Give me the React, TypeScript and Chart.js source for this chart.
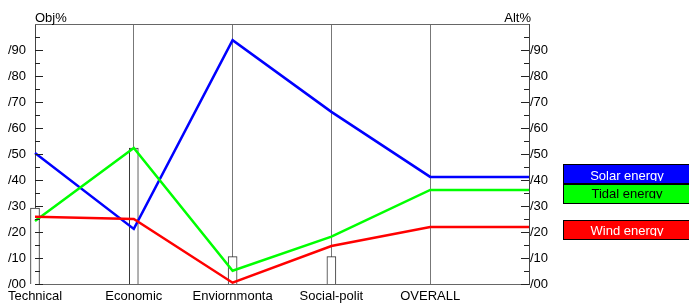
import React, { useEffect, useRef } from "react";
import { Chart, registerables } from "chart.js";

Chart.register(...registerables);

const categories = ["Technical", "Economic", "Enviornmonta", "Social-polit", "OVERALL"];
const seriesNames = ["Solar energy", "Tidal energy", "Wind energy"];
const solar = [50.4, 21.2, 93.8, 66.2, 41.2];
const tidal = [24.2, 52.3, 5.1, 18.2, 36.2];
const wind = [25.9, 25.0, 0.5, 14.6, 21.9];
const objBars = [29.2, 52.3, 10.5, 10.5];
const yTickValues = [0, 10, 20, 30, 40, 50, 60, 70, 80, 90];
const yTickLabels = ["/00", "/10", "/20", "/30", "/40", "/50", "/60", "/70", "/80", "/90"];
const leftTitle = "Obj%";
const rightTitle = "Alt%";

const FONT = "Liberation Sans";
const FSIZE = 13;

function lineData(vals: number[]) {
  const pts = vals.map((v, i) => ({ x: i, y: v }));
  pts.push({ x: vals.length, y: vals[vals.length - 1] });
  return pts;
}

const fmtTick = (v: any) => {
  const i = yTickValues.indexOf(Number(v));
  return i >= 0 ? yTickLabels[i] : null;
};

export default function App() {
  const ref = useRef<HTMLCanvasElement | null>(null);
  useEffect(() => {
    document.body.style.margin = "0";
    const colors = ["#0000ff", "#00ff00", "#ff0000"];
    const textColors = ["#ffffff", "#000000", "#ffffff"];
    const decor = {
      id: "decor",
      afterDraw(chart: any) {
        const ctx = chart.ctx;
        const a = chart.chartArea;
        const ys = chart.scales.y;
        ctx.save();
        // top border
        ctx.strokeStyle = "#666";
        ctx.lineWidth = 1;
        ctx.beginPath();
        ctx.moveTo(a.left, a.top + 0.5);
        ctx.lineTo(a.right, a.top + 0.5);
        ctx.stroke();
        // inward ticks
        ctx.strokeStyle = "#222";
        for (let v = 0; v < 100; v += 5) {
          const y = Math.round(ys.getPixelForValue(v)) + 0.5;
          const len = v % 10 === 0 ? 8 : 5;
          ctx.beginPath();
          ctx.moveTo(a.left, y);
          ctx.lineTo(a.left + len, y);
          ctx.moveTo(a.right, y);
          ctx.lineTo(a.right - len, y);
          ctx.stroke();
        }
        // titles
        ctx.fillStyle = "#000";
        ctx.font = `${FSIZE}px "${FONT}"`;
        ctx.textBaseline = "alphabetic";
        ctx.textAlign = "left";
        ctx.fillText(leftTitle, a.left, a.top - 2);
        ctx.textAlign = "right";
        ctx.fillText(rightTitle, a.right + 2, a.top - 2);
        // legend
        const boxX = 563.5;
        const boxW = 140;
        const boxTops = [164.5, 184.5, 220.5];
        const boxH = 19;
        const baselines = [179.5, 198, 234.5];
        const clipBottoms = [181, 198.5, 236];
        seriesNames.forEach((name, i) => {
          const y = boxTops[i];
          ctx.fillStyle = colors[i];
          ctx.fillRect(boxX, y, boxW, boxH);
          ctx.strokeStyle = "#000";
          ctx.strokeRect(boxX, y, boxW, boxH);
          ctx.save();
          ctx.beginPath();
          ctx.rect(boxX, y, boxW, clipBottoms[i] - y);
          ctx.clip();
          ctx.fillStyle = textColors[i];
          ctx.textAlign = "center";
          ctx.textBaseline = "alphabetic";
          ctx.fillText(name, 627, baselines[i]);
          ctx.restore();
        });
        ctx.restore();
      },
    };
    const lineDs = (i: number, vals: number[], order: number) => ({
      type: "line",
      label: seriesNames[i],
      data: lineData(vals),
      borderColor: colors[i],
      borderWidth: 2.5,
      pointRadius: 0,
      tension: 0,
      clip: false,
      order,
    });
    const chart = new Chart(ref.current as HTMLCanvasElement, {
      type: "line",
      data: {
        datasets: [
          lineDs(2, wind, 1),
          lineDs(1, tidal, 2),
          lineDs(0, solar, 3),
          {
            type: "bar",
            label: "Obj",
            data: objBars.map((v, i) => ({ x: i, y: v })),
            backgroundColor: "#ffffff",
            borderColor: "#333",
            borderWidth: 1,
            barThickness: 9,
            clip: false,
            order: 4,
          },
        ] as any,
      },
      options: {
        responsive: false,
        animation: false,
        layout: { padding: { top: 24, left: 0, right: 0, bottom: 0 } },
        plugins: { legend: { display: false }, tooltip: { enabled: false } },
        scales: {
          x: {
            type: "linear",
            min: 0,
            max: categories.length,
            offset: false,
            grid: { color: "#777", drawTicks: false, offset: false },
            border: { color: "#666" },
            ticks: {
              stepSize: 1,
              autoSkip: false,
              maxRotation: 0,
              padding: 5,
              color: "#000",
              font: { family: FONT, size: FSIZE },
              callback: (v: any) => categories[Number(v)] ?? "",
            },
            afterFit: (s: any) => {
              s.height = 21;
            },
          },
          y: {
            position: "left",
            min: 0,
            max: 100,
            grid: { display: false, drawTicks: false },
            border: { color: "#444" },
            ticks: {
              stepSize: 10,
              padding: 9,
              color: "#000",
              font: { family: FONT, size: FSIZE },
              callback: fmtTick,
            },
            afterFit: (s: any) => {
              s.width = 35;
            },
          },
          y2: {
            position: "right",
            min: 0,
            max: 100,
            grid: { display: false, drawTicks: false },
            border: { color: "#444" },
            ticks: {
              stepSize: 10,
              padding: 1,
              color: "#000",
              font: { family: FONT, size: FSIZE },
              callback: fmtTick,
            },
            afterFit: (s: any) => {
              s.width = 160;
            },
          },
        },
      } as any,
      plugins: [decor],
    });
    return () => chart.destroy();
  }, []);
  return (
    <div style={{ position: "absolute", left: 0, top: 0, width: 689, height: 305 }}>
      <canvas ref={ref} width={689} height={305} style={{ display: "block" }} />
    </div>
  );
}
